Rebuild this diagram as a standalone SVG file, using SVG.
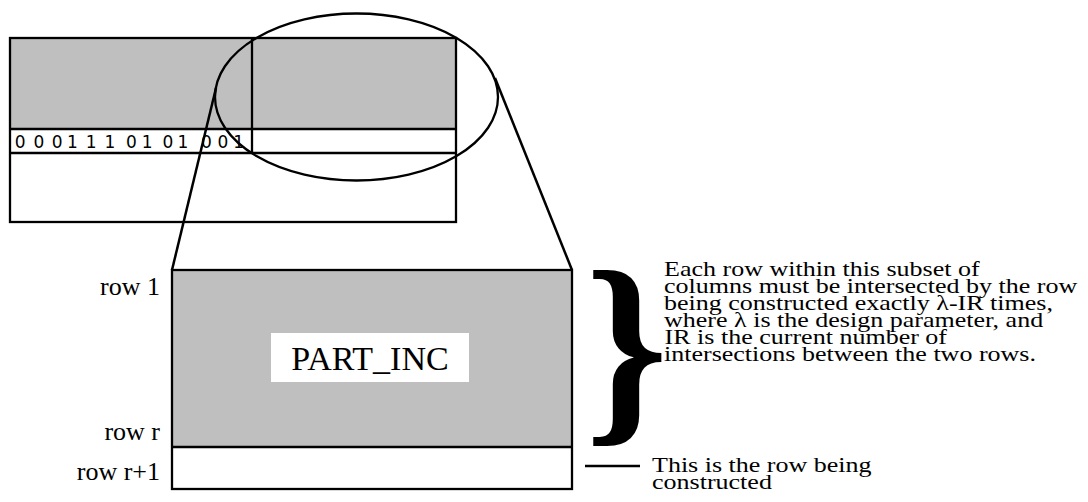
<svg xmlns="http://www.w3.org/2000/svg" width="1088" height="502" viewBox="0 0 1088 502">
<style>
.box{fill:none;stroke:#000;stroke-width:2.3}
.gray{fill:#bfbfbf}
.serif{font-family:"Liberation Serif","Times New Roman",serif;fill:#000}
.bits{font-family:"DejaVu Sans",sans-serif;font-size:17px;fill:#000}
.note{font-family:"Liberation Serif","Times New Roman",serif;font-size:21.5px;fill:#000}
.conn{stroke:#000;stroke-width:2.5;fill:none}
</style>
<rect width="1088" height="502" fill="#fff"/>
<g id="top-matrix">
  <rect class="gray" x="10" y="38" width="446" height="91"/>
  <rect fill="#fff" x="10" y="129" width="446" height="93"/>
  <rect class="box" x="10" y="38" width="446" height="184"/>
  <line class="box" x1="10" y1="129" x2="456" y2="129"/>
  <line class="box" x1="10" y1="153" x2="456" y2="153"/>
  <line class="box" x1="252" y1="38" x2="252" y2="153"/>
  <text class="bits" y="147.5" x="14.8 24.5 33.5 43.5 51.8 67 77.5 85.8 95.5 104.4 115.5 126 141.7 152.5 162.5 177.4 189.5 201 209.5 217.5 233.2">0 0 01 1 1 01 01 0 01</text>
</g>
<g id="zoom-ellipse">
  <ellipse class="box" cx="356.5" cy="97" rx="141.5" ry="83.5"/>
</g>
<g id="bottom-matrix">
  <rect class="gray" x="172" y="270" width="400" height="177"/>
  <rect fill="#fff" x="172" y="447" width="400" height="42"/>
  <rect class="box" x="172" y="270" width="400" height="219" stroke-width="2.5"/>
  <line class="box" x1="172" y1="447" x2="572" y2="447" stroke-width="2.5"/>
  <rect fill="#fff" x="271" y="333" width="198" height="49"/>
  <text class="serif" x="370" y="370" font-size="34" text-anchor="middle">PART_INC</text>
</g>
<g id="row-labels" class="serif" font-size="26" text-anchor="end">
  <text x="160" y="295">row 1</text>
  <text x="160" y="440">row r</text>
  <text x="160" y="480">row r+1</text>
</g>
<g id="brace">
  <text class="serif" font-size="211" font-weight="bold" transform="translate(585,416.6) scale(1.0,1)">}</text>
</g>
<g id="note-intersections" class="note" transform="translate(664,0) scale(1.21,1)">
  <text x="0" y="276">Each row within this subset of</text>
  <text x="0" y="293">columns must be intersected by the row</text>
  <text x="0" y="310">being constructed exactly λ-IR times,</text>
  <text x="0" y="327">where λ is the design parameter, and</text>
  <text x="0.5" y="344">IR is the current number of</text>
  <text x="0" y="361">intersections between the two rows.</text>
</g>
<g id="note-row" class="note" transform="translate(652,0) scale(1.21,1)">
  <text x="0" y="472">This is the row being</text>
  <text x="0" y="489">constructed</text>
</g>
<g id="connectors">
  <line class="conn" x1="216" y1="88" x2="172" y2="270"/>
  <line class="conn" x1="495" y1="78" x2="572" y2="270"/>
  <line class="conn" x1="585" y1="466" x2="640" y2="466" stroke-width="2"/>
</g>
</svg>
